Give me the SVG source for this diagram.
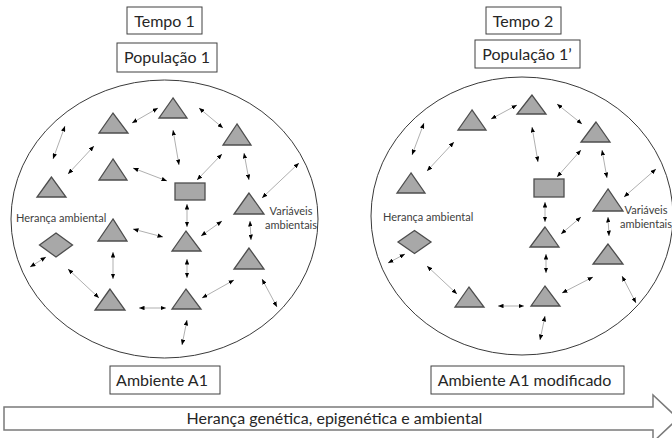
<svg xmlns="http://www.w3.org/2000/svg" width="672" height="438" viewBox="0 0 672 438">
<defs>
<marker id="ah" viewBox="0 0 10 8" refX="10" refY="4" markerWidth="5.5" markerHeight="4.5" markerUnits="userSpaceOnUse" orient="auto-start-reverse">
<path d="M0,0 L10,4 L0,8 z" fill="#000"/>
</marker>
<style>
.tri,.rc,.dm{fill:#a8a8a8;stroke:#4d4d4d;stroke-width:1.3;stroke-linejoin:miter}
.env{fill:none;stroke:#3a3a3a;stroke-width:1}
.box{fill:#fff;stroke:#404040;stroke-width:1}
.t{font-family:Lato,"Liberation Sans",sans-serif;font-size:16px;fill:#262626;text-anchor:middle}
.s{font-family:Lato,"Liberation Sans",sans-serif;font-size:11px;fill:#404040}
.c line{stroke:#a6a6a6;stroke-width:0.9;marker-start:url(#ah);marker-end:url(#ah)}
</style>
</defs>
<rect width="672" height="438" fill="#fff"/>

<!-- Left panel -->
<g id="tempo1"><rect class="box" x="127" y="7" width="75" height="27"/><text class="t" x="164.5" y="26.5">Tempo 1</text></g>
<g id="populacao1"><rect class="box" x="117" y="43" width="100" height="29"/><text class="t" x="167" y="63">População 1</text></g>
<g id="ambiente1"><ellipse class="env" cx="164.5" cy="219" rx="153.5" ry="139"/></g>
<g id="ambienteA1"><rect class="box" x="110" y="366" width="110" height="28"/><text class="t" x="162" y="386">Ambiente A1</text></g>
<g id="L_A"><polygon class="tri" points="113,113 99,133 128,133"/></g>
<g id="L_B"><polygon class="tri" points="173,98 159,118 187,118"/></g>
<g id="L_C"><polygon class="tri" points="51.5,177 37,197 66,197"/></g>
<g id="L_D"><polygon class="tri" points="113,159 99,180 127,180"/></g>
<g id="L_E"><polygon class="tri" points="237,124 223,145 251,145"/></g>
<g id="L_F"><polygon class="tri" points="249,193 234,214 264,214"/></g>
<g id="L_G"><polygon class="tri" points="186,231 172,251 201,251"/></g>
<g id="L_H"><polygon class="tri" points="249,248 234,269 264,269"/></g>
<g id="L_I"><polygon class="tri" points="186,289 172,309 201,309"/></g>
<g id="L_J"><polygon class="tri" points="113,219 98,241 127,241"/></g>
<g id="L_K"><polygon class="tri" points="110,289 95,310 125,310"/></g>
<g id="L_rect"><rect class="rc" x="175" y="183" width="30" height="17"/></g>
<g id="L_diamond"><polygon class="dm" points="56,233 72.5,245 56,257 39.5,245"/></g>
<g id="L_heranca"><text class="s" x="16" y="221.5">Herança ambiental</text></g>
<g id="L_variaveis"><text class="s" x="291" y="215" text-anchor="middle">Variáveis</text><text class="s" x="291" y="229" text-anchor="middle">ambientais</text></g>

<!-- Right panel -->
<g id="tempo2"><rect class="box" x="486" y="7" width="75" height="27"/><text class="t" x="523" y="26.5">Tempo 2</text></g>
<g id="populacao1b"><rect class="box" x="475" y="40" width="105" height="28"/><text class="t" x="527" y="60">População 1’</text></g>
<g id="ambiente2"><ellipse class="env" cx="522" cy="216" rx="151" ry="139"/></g>
<g id="ambienteA1mod"><rect class="box" x="431" y="366" width="193" height="28"/><text class="t" x="524.5" y="386">Ambiente A1 modificado</text></g>
<g id="R_A"><polygon class="tri" points="472,110 458,130 486,130"/></g>
<g id="R_B"><polygon class="tri" points="532,95 517,114 546,114"/></g>
<g id="R_C"><polygon class="tri" points="411,173 397,193 425,193"/></g>
<g id="R_E"><polygon class="tri" points="596,122 581,142 610,142"/></g>
<g id="R_F"><polygon class="tri" points="608,189 593,211 623,211"/></g>
<g id="R_G"><polygon class="tri" points="545,227 530,247 559,247"/></g>
<g id="R_H"><polygon class="tri" points="608,244 593,264 623,264"/></g>
<g id="R_I"><polygon class="tri" points="545,286 531,306 560,306"/></g>
<g id="R_K"><polygon class="tri" points="469,287 455,307 484,307"/></g>
<g id="R_rect"><rect class="rc" x="534" y="179" width="30" height="18"/></g>
<g id="R_diamond"><polygon class="dm" points="414.5,230.5 431,242 414.5,253.5 398,242"/></g>
<g id="R_heranca"><text class="s" x="383" y="220.5">Herança ambiental</text></g>
<g id="R_variaveis"><text class="s" x="646" y="213.5" text-anchor="middle">Variáveis</text><text class="s" x="646" y="228" text-anchor="middle">ambientais</text></g>

<!-- Connectors -->
<g id="connectors" class="c">
<line x1="65" y1="126" x2="53" y2="159"/>
<line x1="94" y1="146" x2="68" y2="174"/>
<line x1="158" y1="108" x2="132" y2="123"/>
<line x1="133" y1="168" x2="167" y2="181"/>
<line x1="173" y1="130" x2="179" y2="165"/>
<line x1="199" y1="108" x2="223" y2="128"/>
<line x1="222" y1="154" x2="197" y2="180"/>
<line x1="244" y1="153" x2="249" y2="180"/>
<line x1="299" y1="163" x2="262" y2="198"/>
<line x1="187" y1="204" x2="187" y2="227"/>
<line x1="222" y1="221" x2="201" y2="236"/>
<line x1="250" y1="221" x2="251" y2="240"/>
<line x1="187" y1="259" x2="187" y2="278"/>
<line x1="234" y1="280" x2="202" y2="298"/>
<line x1="262" y1="279" x2="277" y2="307"/>
<line x1="187" y1="320" x2="182" y2="345"/>
<line x1="133" y1="229" x2="163" y2="237"/>
<line x1="139" y1="308" x2="166" y2="308"/>
<line x1="113" y1="252" x2="113" y2="279"/>
<line x1="46" y1="257" x2="30" y2="267"/>
<line x1="68" y1="269" x2="99" y2="298"/>

<line x1="424" y1="123" x2="412" y2="155"/>
<line x1="454" y1="142" x2="427" y2="171"/>
<line x1="517" y1="105" x2="491" y2="119"/>
<line x1="405" y1="254" x2="388" y2="263"/>
<line x1="427" y1="266" x2="457" y2="294"/>
<line x1="498" y1="306" x2="524" y2="306"/>
<line x1="532" y1="127" x2="538" y2="162"/>
<line x1="557" y1="104" x2="582" y2="124"/>
<line x1="581" y1="150" x2="557" y2="177"/>
<line x1="602" y1="150" x2="607" y2="178"/>
<line x1="656" y1="169" x2="624" y2="197"/>
<line x1="545" y1="202" x2="545" y2="222"/>
<line x1="581" y1="217" x2="561" y2="234"/>
<line x1="608" y1="217" x2="609" y2="236"/>
<line x1="546" y1="254" x2="546" y2="273"/>
<line x1="593" y1="277" x2="562" y2="293"/>
<line x1="622" y1="276" x2="636" y2="303"/>
<line x1="545" y1="316" x2="540" y2="340"/>
</g>

<!-- Big arrow -->
<g id="heranca_arrow">
<polygon points="4,407 653,407 653,395 678,418.5 653,442 653,430 4,430" fill="#fff" stroke="#7a7a7a" stroke-width="1.5"/>
<text class="t" x="334.5" y="424">Herança genética, epigenética e ambiental</text>
</g>
</svg>
